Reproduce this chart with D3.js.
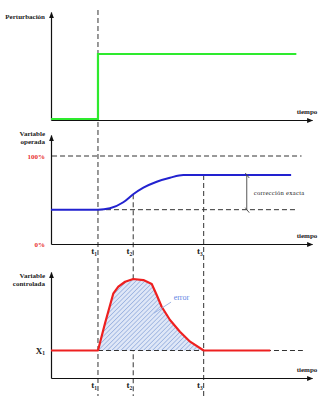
<!DOCTYPE html>
<html>
<head>
<meta charset="utf-8">
<script src="https://cdn.jsdelivr.net/npm/d3@7"></script>
<style>
  html, body { margin: 0; padding: 0; background: #fff; }
  svg { display: block; }
  text { font-family: "Liberation Serif", "Times New Roman", serif; }
</style>
</head>
<body>
<script>
// Time instants (shared horizontal scale, 0..100 along each time axis)
const timeMarks = [18, 31.5, 58.5];
const timeSubs = ["1", "2", "3"];

// Disturbance: unit step at t1
const pertTime  = [0, 18, 18, 94];
const pertValue = [0, 0, 1, 1];

// Manipulated variable (% of range)
const opTime  = [0, 18, 22.6, 27.7, 31.5, 35.4, 40.5, 45.6, 50.7, 58.5, 92];
const opValue = [39, 39, 40.6, 47.4, 56.5, 64, 70.8, 75.3, 78.4, 78.4, 78.4];
const opLevels = [0, 100];
const opLevelLabels = ["0%", "100%"];

// Controlled variable
const setpoint = 25;
const ctTime  = [0, 18, 20.7, 23.9, 25.8, 28.4, 31.5, 35.4, 38.6, 40.5, 42.4, 45.6, 49.4, 53.3, 58.5, 84];
const ctValue = [25, 25, 49.7, 77, 83, 87.5, 90, 89, 85.5, 75.5, 64.8, 52.7, 42, 33, 25, 25];

const W = 330, H = 398;
const svg = d3.select("body").append("svg").attr("width", W).attr("height", H);
svg.append("rect").attr("width", W).attr("height", H).attr("fill", "#fff");

const defs = svg.append("defs");
defs.append("marker").attr("id", "arrow")
  .attr("viewBox", "0 0 10 10").attr("refX", 9).attr("refY", 5)
  .attr("markerWidth", 7).attr("markerHeight", 6).attr("orient", "auto")
  .attr("markerUnits", "userSpaceOnUse")
  .append("path").attr("d", "M0,1 L10,5 L0,9 Z").attr("fill", "#111");
const hatch = defs.append("pattern").attr("id", "hatch")
  .attr("patternUnits", "userSpaceOnUse").attr("width", 3.2).attr("height", 3.2)
  .attr("patternTransform", "rotate(45)");
hatch.append("rect").attr("width", 3.2).attr("height", 3.2).attr("fill", "#dfe7f7");
hatch.append("line").attr("x1", 0).attr("y1", 0).attr("x2", 0).attr("y2", 3.2)
  .attr("stroke", "#7d9bd6").attr("stroke-width", 1.1);

const x = d3.scaleLinear().domain([0, 100]).range([51, 312]);
const yPert = d3.scaleLinear().domain([0, 1]).range([119, 54]);
const yOp = d3.scaleLinear().domain([0, 100]).range([244, 156]);
const yCt = d3.scaleLinear().domain([0, 100]).range([378, 268]);

const panels = [
  { base: 120, top: 12, title: ["Perturbación"], titleY: 16 },
  { base: 244, top: 135, title: ["Variable", "operada"], titleY: 133 },
  { base: 378, top: 272, title: ["Variable", "controlada"], titleY: 275 }
];

const dash = "5,3";
const dashColor = "#333";

// Vertical guides at t1, t2, t3
svg.append("line").attr("x1", x(timeMarks[0])).attr("x2", x(timeMarks[0]))
  .attr("y1", 10).attr("y2", 396)
  .attr("stroke", dashColor).attr("stroke-dasharray", dash);
svg.append("line").attr("x1", x(timeMarks[1])).attr("x2", x(timeMarks[1]))
  .attr("y1", yOp(opValue[4])).attr("y2", 396)
  .attr("stroke", dashColor).attr("stroke-dasharray", dash);
svg.append("line").attr("x1", x(timeMarks[2])).attr("x2", x(timeMarks[2]))
  .attr("y1", yOp(opValue[9])).attr("y2", 396)
  .attr("stroke", dashColor).attr("stroke-dasharray", dash);

// Axes for each panel
panels.forEach(p => {
  const ax = svg.append("g").attr("transform", `translate(0,${p.base})`)
    .call(d3.axisBottom(x).tickValues([]).tickSizeOuter(0));
  ax.select(".domain").attr("stroke", "#111").attr("stroke-width", 1.2)
    .attr("marker-end", "url(#arrow)");
  const yAx = d3.scaleLinear().domain([0, 1]).range([p.base, p.top]);
  const ay = svg.append("g").attr("transform", `translate(${x(0)},0)`)
    .call(d3.axisLeft(yAx).tickValues([]).tickSizeOuter(0));
  ay.select(".domain").attr("stroke", "#111").attr("stroke-width", 1.2)
    .attr("marker-end", "url(#arrow)");
  p.title.forEach((s, i) => {
    svg.append("text").attr("x", 45).attr("y", p.titleY + i * 8 + 2.5)
      .attr("text-anchor", "end").attr("font-size", 7).attr("font-weight", "bold")
      .attr("fill", "#222").text(s);
  });
  svg.append("text").attr("x", 307).attr("y", p.base - 6)
    .attr("text-anchor", "middle").attr("font-size", 7).attr("font-weight", "bold")
    .attr("fill", "#222").text("tiempo");
});

// Time tick labels on the lower two panels
[244, 378].forEach(base => {
  timeMarks.forEach((t, i) => {
    const tx = svg.append("text").attr("x", x(t) - 1).attr("y", base + 10)
      .attr("text-anchor", "end").attr("font-size", 9).attr("font-weight", "bold")
      .attr("fill", "#222");
    tx.append("tspan").text("t");
    tx.append("tspan").attr("font-size", 5.5).attr("dy", 1.5).text(timeSubs[i]);
  });
});

// Panel 1: disturbance step
svg.append("path")
  .datum(pertTime.map((t, i) => [t, pertValue[i]]))
  .attr("d", d3.line().x(d => x(d[0])).y(d => yPert(d[1])))
  .attr("fill", "none").attr("stroke", "#2eea2e").attr("stroke-width", 2.2);

// Panel 2: manipulated variable
svg.append("line").attr("x1", x(0.4)).attr("x2", x(96))
  .attr("y1", yOp(100)).attr("y2", yOp(100))
  .attr("stroke", dashColor).attr("stroke-dasharray", dash);
svg.append("line").attr("x1", x(timeMarks[0])).attr("x2", x(94.5))
  .attr("y1", yOp(opValue[0])).attr("y2", yOp(opValue[0]))
  .attr("stroke", dashColor).attr("stroke-dasharray", dash);
opLevels.forEach((v, i) => {
  svg.append("text").attr("x", 45).attr("y", yOp(v) + 2.5)
    .attr("text-anchor", "end").attr("font-size", 7).attr("font-weight", "bold")
    .attr("fill", "#e83030").text(opLevelLabels[i]);
});
svg.append("path")
  .datum(opTime.map((t, i) => [t, opValue[i]]))
  .attr("d", d3.line().curve(d3.curveMonotoneX).x(d => x(d[0])).y(d => yOp(d[1])))
  .attr("fill", "none").attr("stroke", "#2222d0").attr("stroke-width", 2);

// Exact correction marker
const cx = x(75);
const cTop = yOp(opValue[opValue.length - 1]), cBot = yOp(opValue[0]);
svg.append("line").attr("x1", cx).attr("x2", cx).attr("y1", cTop).attr("y2", cBot)
  .attr("stroke", "#444").attr("stroke-width", 0.9);
[[cTop, -1], [cBot, 1]].forEach(([yy]) => {
  svg.append("line").attr("x1", cx - 1.5).attr("x2", cx + 2.5)
    .attr("y1", yy - 2).attr("y2", yy + 3)
    .attr("stroke", "#444").attr("stroke-width", 0.9);
});
svg.append("text").attr("x", cx + 7).attr("y", (cTop + cBot) / 2 + 2.5)
  .attr("font-size", 6.5).attr("letter-spacing", 0.3).attr("fill", "#222")
  .text("corrección exacta");

// Panel 3: controlled variable
const ctPts = ctTime.map((t, i) => [t, ctValue[i]]);
const errPts = ctPts.filter(d => d[0] >= timeMarks[0] && d[0] <= timeMarks[2]);
svg.append("path").datum(errPts)
  .attr("d", d3.area().x(d => x(d[0])).y0(yCt(setpoint)).y1(d => yCt(d[1])))
  .attr("fill", "url(#hatch)");
svg.append("line").attr("x1", x(timeMarks[0])).attr("x2", x(96.5))
  .attr("y1", yCt(setpoint)).attr("y2", yCt(setpoint))
  .attr("stroke", dashColor).attr("stroke-dasharray", dash);
svg.append("path").datum(ctPts)
  .attr("d", d3.line().x(d => x(d[0])).y(d => yCt(d[1])))
  .attr("fill", "none").attr("stroke", "#ee2020").attr("stroke-width", 2.2)
  .attr("stroke-linejoin", "round");
const sx = svg.append("text").attr("x", 45).attr("y", yCt(setpoint) + 3)
  .attr("text-anchor", "end").attr("font-size", 9).attr("font-weight", "bold")
  .attr("fill", "#222");
sx.append("tspan").text("X");
sx.append("tspan").attr("font-size", 5.5).attr("dy", 1.5).text("1");

// Error label with leader
svg.append("line").attr("x1", x(39.5)).attr("x2", x(46))
  .attr("y1", yCt(59)).attr("y2", yCt(69))
  .attr("stroke", "#8aa6e0").attr("stroke-width", 0.8);
svg.append("text").attr("x", x(47)).attr("y", yCt(71))
  .attr("font-size", 8).attr("fill", "#5f86e4").text("error");
</script>
</body>
</html>
